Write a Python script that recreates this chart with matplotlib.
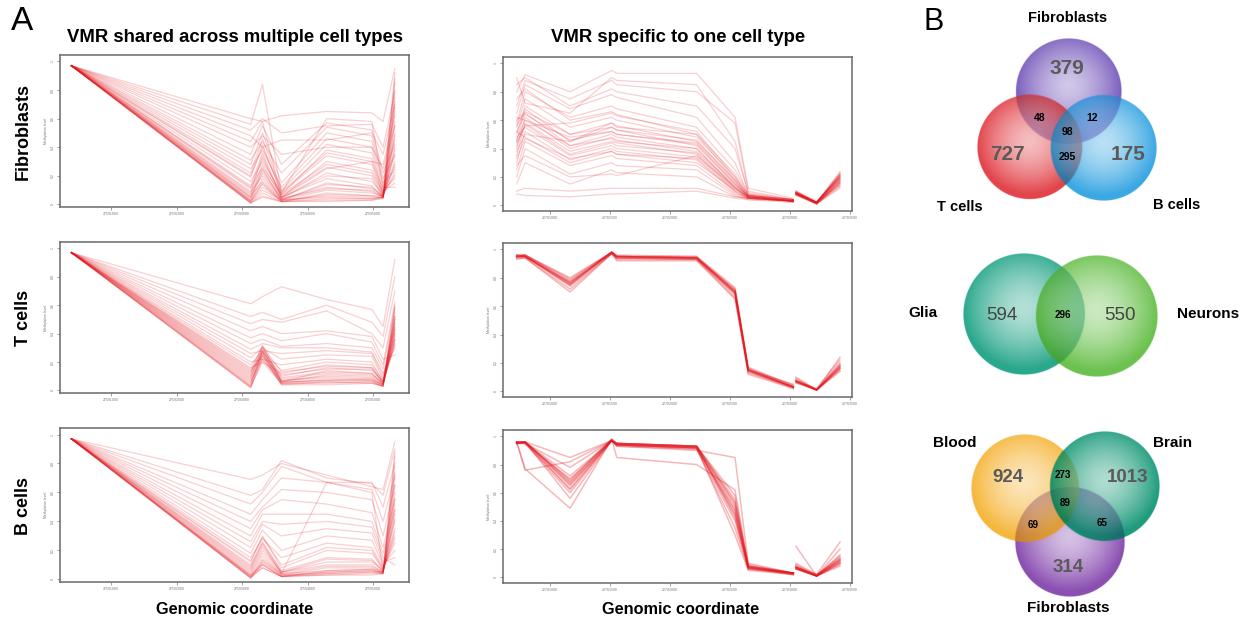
import numpy as np
import matplotlib
matplotlib.use('Agg')
import matplotlib.pyplot as plt
from matplotlib.ticker import FixedLocator

plt.rcParams['font.family'] = ['Liberation Sans', 'DejaVu Sans']

W, H = 1248, 621  # output size in pixels (dpi 100)

# Data: methylation profiles ################################################
cell_types = ['Fibroblasts', 'T cells', 'B cells']
column_titles = ['VMR shared across multiple cell types',
                 'VMR specific to one cell type']

shared_pos = [27590394, 27593130, 27593310, 27593600, 27594290,
              27594980, 27595150, 27595330]
shared_ticks = [27591000, 27592000, 27593000, 27594000, 27595000]

specific_pos = [22780722, 22780792, 22781167, 22781514, 22781556, 22782222,
                22782542, 22782652, 22783028, 22783050, 22783222, 22783417]
specific_gap = 9  # no probes between index 8 and 9
specific_ticks = [22781000, 22781500, 22782000, 22782500, 22783000, 22783500]

fib_shared = [
    [0.97, 0.01, 0.05, 0.02, 0.03, 0.03, 0.04, 0.88],
    [0.97, 0.01, 0.08, 0.02, 0.04, 0.04, 0.05, 0.80],
    [0.97, 0.02, 0.12, 0.03, 0.06, 0.05, 0.05, 0.72],
    [0.97, 0.02, 0.15, 0.02, 0.08, 0.06, 0.04, 0.65],
    [0.97, 0.03, 0.18, 0.03, 0.10, 0.08, 0.06, 0.58],
    [0.97, 0.04, 0.22, 0.04, 0.12, 0.09, 0.05, 0.50],
    [0.97, 0.05, 0.25, 0.03, 0.15, 0.11, 0.06, 0.45],
    [0.97, 0.07, 0.28, 0.05, 0.18, 0.13, 0.05, 0.40],
    [0.97, 0.09, 0.20, 0.04, 0.22, 0.16, 0.07, 0.35],
    [0.97, 0.11, 0.32, 0.06, 0.26, 0.20, 0.06, 0.30],
    [0.97, 0.13, 0.36, 0.05, 0.30, 0.24, 0.08, 0.26],
    [0.97, 0.16, 0.30, 0.08, 0.34, 0.28, 0.07, 0.22],
    [0.97, 0.19, 0.42, 0.07, 0.38, 0.32, 0.10, 0.18],
    [0.97, 0.22, 0.46, 0.10, 0.42, 0.36, 0.09, 0.15],
    [0.97, 0.25, 0.38, 0.12, 0.46, 0.40, 0.12, 0.12],
    [0.97, 0.28, 0.50, 0.15, 0.50, 0.44, 0.15, 0.24],
    [0.97, 0.31, 0.44, 0.22, 0.54, 0.48, 0.18, 0.34],
    [0.97, 0.35, 0.55, 0.28, 0.57, 0.52, 0.22, 0.42],
    [0.97, 0.40, 0.48, 0.35, 0.40, 0.40, 0.25, 0.55],
    [0.97, 0.44, 0.58, 0.05, 0.25, 0.30, 0.28, 0.62],
    [0.97, 0.48, 0.40, 0.45, 0.45, 0.50, 0.35, 0.70],
    [0.97, 0.52, 0.60, 0.50, 0.55, 0.56, 0.40, 0.78],
    [0.97, 0.56, 0.84, 0.08, 0.60, 0.58, 0.12, 0.85],
    [0.97, 0.60, 0.58, 0.62, 0.65, 0.64, 0.58, 0.95],
    [0.97, 0.01, 0.06, 0.02, 0.02, 0.03, 0.05, 0.92],
    [0.97, 0.02, 0.10, 0.03, 0.05, 0.04, 0.05, 0.75],
    [0.97, 0.03, 0.14, 0.02, 0.07, 0.06, 0.06, 0.68],
    [0.97, 0.05, 0.24, 0.04, 0.11, 0.10, 0.05, 0.55],
    [0.97, 0.06, 0.16, 0.03, 0.14, 0.12, 0.06, 0.48],
    [0.97, 0.08, 0.34, 0.05, 0.20, 0.18, 0.05, 0.38],
    [0.97, 0.12, 0.26, 0.07, 0.28, 0.22, 0.07, 0.28],
    [0.97, 0.20, 0.40, 0.09, 0.36, 0.30, 0.08, 0.20],
]
tc_shared = [
    [0.97, 0.02, 0.22, 0.05, 0.05, 0.06, 0.03, 0.55],
    [0.97, 0.03, 0.26, 0.04, 0.06, 0.05, 0.03, 0.60],
    [0.97, 0.04, 0.28, 0.06, 0.07, 0.08, 0.04, 0.50],
    [0.97, 0.06, 0.25, 0.05, 0.08, 0.07, 0.03, 0.45],
    [0.97, 0.08, 0.30, 0.07, 0.10, 0.09, 0.04, 0.42],
    [0.97, 0.10, 0.27, 0.08, 0.12, 0.11, 0.05, 0.38],
    [0.97, 0.12, 0.32, 0.06, 0.14, 0.12, 0.04, 0.35],
    [0.97, 0.14, 0.24, 0.10, 0.16, 0.14, 0.06, 0.32],
    [0.97, 0.16, 0.20, 0.12, 0.18, 0.16, 0.05, 0.48],
    [0.97, 0.18, 0.28, 0.14, 0.20, 0.18, 0.07, 0.40],
    [0.97, 0.20, 0.22, 0.18, 0.22, 0.20, 0.06, 0.36],
    [0.97, 0.23, 0.30, 0.22, 0.25, 0.24, 0.08, 0.52],
    [0.97, 0.26, 0.28, 0.26, 0.28, 0.26, 0.10, 0.44],
    [0.97, 0.29, 0.33, 0.30, 0.30, 0.27, 0.12, 0.30],
    [0.97, 0.33, 0.36, 0.31, 0.33, 0.30, 0.15, 0.58],
    [0.97, 0.37, 0.40, 0.35, 0.40, 0.34, 0.18, 0.62],
    [0.97, 0.42, 0.45, 0.40, 0.42, 0.38, 0.22, 0.25],
    [0.97, 0.47, 0.50, 0.48, 0.56, 0.40, 0.30, 0.70],
    [0.97, 0.52, 0.55, 0.50, 0.60, 0.48, 0.38, 0.80],
    [0.97, 0.61, 0.66, 0.73, 0.64, 0.57, 0.45, 0.92],
    [0.97, 0.02, 0.24, 0.04, 0.04, 0.05, 0.03, 0.58],
    [0.97, 0.03, 0.20, 0.05, 0.06, 0.06, 0.03, 0.52],
    [0.97, 0.05, 0.28, 0.06, 0.07, 0.07, 0.04, 0.47],
    [0.97, 0.07, 0.22, 0.07, 0.09, 0.08, 0.04, 0.43],
    [0.97, 0.09, 0.26, 0.06, 0.11, 0.10, 0.05, 0.40],
    [0.97, 0.11, 0.30, 0.09, 0.13, 0.12, 0.05, 0.36],
    [0.97, 0.13, 0.27, 0.11, 0.15, 0.15, 0.06, 0.33],
    [0.97, 0.15, 0.31, 0.13, 0.17, 0.16, 0.06, 0.50],
]
bc_shared = [
    [0.97, 0.01, 0.10, 0.02, 0.03, 0.04, 0.04, 0.85],
    [0.97, 0.01, 0.12, 0.03, 0.04, 0.05, 0.04, 0.78],
    [0.97, 0.02, 0.08, 0.02, 0.05, 0.06, 0.05, 0.70],
    [0.97, 0.03, 0.14, 0.04, 0.06, 0.07, 0.04, 0.60],
    [0.97, 0.04, 0.16, 0.03, 0.08, 0.08, 0.05, 0.52],
    [0.97, 0.06, 0.20, 0.05, 0.10, 0.10, 0.05, 0.45],
    [0.97, 0.08, 0.24, 0.04, 0.67, 0.60, 0.06, 0.40],
    [0.97, 0.10, 0.26, 0.06, 0.15, 0.14, 0.06, 0.35],
    [0.97, 0.12, 0.30, 0.08, 0.20, 0.18, 0.07, 0.30],
    [0.97, 0.15, 0.28, 0.15, 0.25, 0.22, 0.08, 0.25],
    [0.97, 0.18, 0.34, 0.20, 0.30, 0.27, 0.10, 0.20],
    [0.97, 0.22, 0.38, 0.30, 0.35, 0.32, 0.12, 0.15],
    [0.97, 0.26, 0.40, 0.38, 0.40, 0.36, 0.15, 0.10],
    [0.97, 0.30, 0.45, 0.45, 0.45, 0.40, 0.18, 0.48],
    [0.97, 0.35, 0.48, 0.55, 0.52, 0.46, 0.22, 0.55],
    [0.97, 0.40, 0.50, 0.62, 0.60, 0.55, 0.30, 0.65],
    [0.97, 0.45, 0.55, 0.70, 0.67, 0.62, 0.40, 0.72],
    [0.97, 0.52, 0.60, 0.78, 0.67, 0.67, 0.50, 0.80],
    [0.97, 0.58, 0.62, 0.82, 0.70, 0.66, 0.58, 0.90],
    [0.97, 0.69, 0.72, 0.80, 0.72, 0.64, 0.62, 0.95],
    [0.97, 0.01, 0.08, 0.02, 0.03, 0.03, 0.04, 0.88],
    [0.97, 0.02, 0.11, 0.02, 0.04, 0.05, 0.05, 0.74],
    [0.97, 0.02, 0.13, 0.03, 0.05, 0.06, 0.04, 0.65],
    [0.97, 0.03, 0.10, 0.02, 0.06, 0.07, 0.05, 0.56],
    [0.97, 0.05, 0.18, 0.04, 0.09, 0.09, 0.05, 0.48],
    [0.97, 0.07, 0.22, 0.05, 0.12, 0.12, 0.06, 0.42],
    [0.97, 0.09, 0.25, 0.05, 0.14, 0.13, 0.06, 0.33],
    [0.97, 0.13, 0.29, 0.10, 0.22, 0.20, 0.07, 0.28],
]
fib_specific = [
    [0.55, 0.75, 0.55, 0.62, 0.60, 0.48, 0.20, 0.07, 0.04, 0.09, 0.02, 0.18],
    [0.50, 0.70, 0.50, 0.58, 0.56, 0.45, 0.18, 0.06, 0.03, 0.08, 0.02, 0.20],
    [0.45, 0.68, 0.45, 0.55, 0.53, 0.42, 0.15, 0.06, 0.03, 0.09, 0.01, 0.16],
    [0.60, 0.65, 0.42, 0.50, 0.48, 0.40, 0.12, 0.05, 0.03, 0.08, 0.02, 0.22],
    [0.40, 0.62, 0.40, 0.48, 0.46, 0.38, 0.14, 0.07, 0.02, 0.07, 0.01, 0.14],
    [0.35, 0.58, 0.38, 0.45, 0.44, 0.36, 0.10, 0.05, 0.03, 0.08, 0.02, 0.19],
    [0.48, 0.55, 0.35, 0.42, 0.40, 0.34, 0.12, 0.06, 0.04, 0.09, 0.02, 0.24],
    [0.30, 0.52, 0.32, 0.40, 0.38, 0.32, 0.09, 0.05, 0.03, 0.08, 0.01, 0.15],
    [0.58, 0.80, 0.62, 0.70, 0.68, 0.55, 0.25, 0.08, 0.04, 0.10, 0.02, 0.21],
    [0.65, 0.85, 0.68, 0.78, 0.76, 0.62, 0.30, 0.07, 0.03, 0.09, 0.02, 0.17],
    [0.70, 0.88, 0.75, 0.88, 0.85, 0.80, 0.58, 0.10, 0.04, 0.10, 0.03, 0.20],
    [0.80, 0.92, 0.80, 0.95, 0.93, 0.93, 0.62, 0.12, 0.05, 0.09, 0.02, 0.23],
    [0.25, 0.45, 0.28, 0.35, 0.33, 0.28, 0.08, 0.05, 0.03, 0.08, 0.01, 0.13],
    [0.20, 0.40, 0.22, 0.30, 0.28, 0.25, 0.07, 0.04, 0.02, 0.07, 0.01, 0.12],
    [0.15, 0.30, 0.15, 0.25, 0.23, 0.20, 0.06, 0.05, 0.03, 0.08, 0.02, 0.16],
    [0.62, 0.60, 0.48, 0.52, 0.50, 0.44, 0.16, 0.06, 0.03, 0.09, 0.02, 0.19],
    [0.38, 0.50, 0.45, 0.58, 0.55, 0.50, 0.22, 0.07, 0.04, 0.10, 0.02, 0.22],
    [0.85, 0.90, 0.70, 0.82, 0.80, 0.70, 0.40, 0.09, 0.04, 0.08, 0.02, 0.18],
    [0.90, 0.72, 0.65, 0.90, 0.88, 0.85, 0.45, 0.08, 0.03, 0.09, 0.02, 0.15],
    [0.08, 0.07, 0.06, 0.08, 0.08, 0.10, 0.05, 0.04, 0.03, 0.07, 0.02, 0.14],
    [0.10, 0.12, 0.10, 0.12, 0.12, 0.12, 0.06, 0.05, 0.03, 0.08, 0.01, 0.17],
    [0.52, 0.48, 0.30, 0.38, 0.36, 0.30, 0.11, 0.06, 0.03, 0.09, 0.02, 0.20],
    [0.44, 0.56, 0.58, 0.65, 0.63, 0.52, 0.20, 0.07, 0.04, 0.08, 0.02, 0.21],
    [0.28, 0.35, 0.20, 0.22, 0.21, 0.35, 0.13, 0.06, 0.03, 0.09, 0.02, 0.18],
    [0.56, 0.66, 0.50, 0.55, 0.53, 0.46, 0.17, 0.06, 0.03, 0.08, 0.02, 0.19],
    [0.52, 0.64, 0.46, 0.52, 0.50, 0.43, 0.15, 0.06, 0.03, 0.09, 0.02, 0.21],
    [0.46, 0.60, 0.42, 0.47, 0.45, 0.40, 0.13, 0.05, 0.03, 0.08, 0.01, 0.17],
    [0.42, 0.57, 0.36, 0.44, 0.42, 0.37, 0.12, 0.06, 0.03, 0.08, 0.02, 0.20],
    [0.75, 0.82, 0.60, 0.66, 0.64, 0.50, 0.18, 0.07, 0.04, 0.09, 0.02, 0.22],
    [0.33, 0.47, 0.33, 0.38, 0.36, 0.33, 0.10, 0.05, 0.03, 0.08, 0.01, 0.16],
]
tc_specific = [
    [0.95, 0.95, 0.76, 0.98, 0.95, 0.94, 0.70, 0.15, 0.03, 0.07, 0.01, 0.18],
    [0.96, 0.96, 0.78, 0.98, 0.95, 0.94, 0.72, 0.16, 0.03, 0.08, 0.01, 0.16],
    [0.94, 0.95, 0.74, 0.97, 0.94, 0.93, 0.68, 0.14, 0.02, 0.07, 0.01, 0.20],
    [0.95, 0.96, 0.80, 0.98, 0.96, 0.95, 0.73, 0.16, 0.04, 0.08, 0.01, 0.15],
    [0.93, 0.94, 0.72, 0.97, 0.93, 0.93, 0.66, 0.13, 0.03, 0.07, 0.02, 0.22],
    [0.95, 0.95, 0.77, 0.98, 0.95, 0.94, 0.70, 0.15, 0.03, 0.06, 0.01, 0.17],
    [0.96, 0.95, 0.75, 0.98, 0.94, 0.93, 0.69, 0.14, 0.03, 0.07, 0.01, 0.19],
    [0.94, 0.94, 0.70, 0.97, 0.92, 0.92, 0.65, 0.12, 0.02, 0.06, 0.01, 0.24],
    [0.95, 0.96, 0.79, 0.98, 0.95, 0.95, 0.71, 0.17, 0.04, 0.09, 0.01, 0.14],
    [0.96, 0.96, 0.76, 0.98, 0.95, 0.94, 0.70, 0.15, 0.03, 0.07, 0.01, 0.17],
    [0.95, 0.95, 0.77, 0.97, 0.95, 0.94, 0.71, 0.15, 0.05, 0.10, 0.01, 0.16],
    [0.95, 0.95, 0.75, 0.98, 0.94, 0.94, 0.69, 0.15, 0.03, 0.07, 0.01, 0.18],
]
bc_specific = [
    [0.96, 0.96, 0.67, 0.97, 0.95, 0.93, 0.50, 0.07, 0.03, 0.07, 0.01, 0.12],
    [0.95, 0.96, 0.62, 0.97, 0.94, 0.92, 0.45, 0.08, 0.03, 0.06, 0.01, 0.10],
    [0.96, 0.95, 0.70, 0.97, 0.95, 0.93, 0.55, 0.07, 0.02, 0.08, 0.02, 0.14],
    [0.95, 0.96, 0.65, 0.97, 0.94, 0.92, 0.48, 0.06, 0.03, 0.07, 0.01, 0.11],
    [0.96, 0.96, 0.68, 0.98, 0.95, 0.93, 0.52, 0.08, 0.03, 0.07, 0.01, 0.13],
    [0.95, 0.95, 0.60, 0.97, 0.94, 0.91, 0.40, 0.06, 0.02, 0.06, 0.01, 0.09],
    [0.96, 0.96, 0.72, 0.97, 0.95, 0.93, 0.58, 0.08, 0.03, 0.09, 0.01, 0.15],
    [0.95, 0.96, 0.66, 0.97, 0.94, 0.92, 0.47, 0.07, 0.03, 0.07, 0.02, 0.12],
    [0.96, 0.95, 0.63, 0.97, 0.95, 0.93, 0.53, 0.09, 0.03, 0.08, 0.01, 0.16],
    [0.95, 0.96, 0.69, 0.98, 0.94, 0.92, 0.44, 0.07, 0.02, 0.06, 0.01, 0.10],
    [0.95, 0.95, 0.78, 0.97, 0.93, 0.91, 0.35, 0.06, 0.03, 0.22, 0.01, 0.08],
    [0.96, 0.76, 0.82, 0.97, 0.93, 0.90, 0.85, 0.10, 0.03, 0.10, 0.02, 0.25],
    [0.96, 0.77, 0.49, 0.98, 0.85, 0.80, 0.62, 0.08, 0.03, 0.07, 0.01, 0.20],
    [0.95, 0.96, 0.85, 0.97, 0.94, 0.92, 0.30, 0.05, 0.02, 0.06, 0.01, 0.11],
    [0.96, 0.96, 0.56, 0.97, 0.95, 0.93, 0.42, 0.07, 0.03, 0.07, 0.01, 0.13],
]

# Venn counts
venn1_sets = ['Fibroblasts', 'T cells', 'B cells']
venn1_counts = {'F': 379, 'T': 727, 'B': 175, 'FT': 48, 'FB': 12,
                'FTB': 98, 'TB': 295}
venn2_sets = ['Glia', 'Neurons']
venn2_counts = {'G': 594, 'N': 550, 'GN': 296}
venn3_sets = ['Blood', 'Brain', 'Fibroblasts']
venn3_counts = {'Bl': 924, 'Br': 1013, 'F': 314, 'BlBr': 273,
                'BlBrF': 89, 'BlF': 69, 'BrF': 65}

# Layout (pixels) ##########################################################
left_boxes = [(60, 55, 409, 207), (60, 242, 409, 393), (60, 428, 409, 582)]
right_boxes = [(503, 57, 852, 211), (503, 243, 852, 397),
               (503, 430, 852, 583)]
RED = '#e3161d'


def px_rect(box):
    x0, y0, x1, y1 = box
    return [x0 / W, 1 - y1 / H, (x1 - x0) / W, (y1 - y0) / H]


def style_axes(ax, ticks, xlim, ylim):
    ax.set_xlim(*xlim)
    ax.set_ylim(*ylim)
    ax.xaxis.set_major_locator(FixedLocator(ticks))
    ax.set_xticklabels([str(t) for t in ticks])
    ax.set_yticks([0, 0.2, 0.4, 0.6, 0.8, 1.0])
    ax.set_yticklabels(['0', '0.2', '0.4', '0.6', '0.8', '1'],
                       rotation=90, va='center')
    ax.tick_params(length=2, width=0.5, color='#777777', labelsize=2.5,
                   labelcolor='#777777', pad=1.5)
    ax.set_ylabel('Methylation level', fontsize=2.5, color='#777777',
                  labelpad=2)
    for s in ax.spines.values():
        s.set_color('#6a6a6a')
        s.set_linewidth(1.1)


fig = plt.figure(figsize=(W / 100, H / 100), dpi=100)

shared_sets = [fib_shared, tc_shared, bc_shared]
specific_sets = [fib_specific, tc_specific, bc_specific]

for i in range(3):
    ax = fig.add_axes(px_rect(left_boxes[i]))
    for prof in shared_sets[i]:
        ax.plot(shared_pos, prof, color=RED, alpha=0.2, lw=0.9,
                solid_joinstyle='round')
    style_axes(ax, shared_ticks, (27590220, 27595546), (-0.018, 1.045))

    ax = fig.add_axes(px_rect(right_boxes[i]))
    g = specific_gap
    xs = np.r_[specific_pos[:g], np.nan, specific_pos[g:]]
    alpha = 0.2 if i == 0 else 0.3
    lw = 0.9 if i == 0 else 1.1
    for prof in specific_sets[i]:
        ys = np.r_[prof[:g], np.nan, prof[g:]]
        ax.plot(xs, ys, color=RED, alpha=alpha, lw=lw,
                solid_joinstyle='round')
    style_axes(ax, specific_ticks, (22780608, 22783517), (-0.04, 1.045))

# Overlay in pixel coordinates for texts and Venn diagrams #################
ov = fig.add_axes([0, 0, 1, 1], facecolor='none')
ov.set_xlim(0, W)
ov.set_ylim(H, 0)
ov.axis('off')

ov.text(11, 22, 'A', fontsize=24, ha='left', va='center')
ov.text(923, 22, 'B', fontsize=22, ha='left', va='center')
for cx, t in zip([235, 678], column_titles):
    ov.text(cx, 38, t, fontsize=13.3, fontweight='bold', ha='center',
            va='center')
for cx in [235, 681]:
    ov.text(cx, 609, 'Genomic coordinate', fontsize=11.7, fontweight='bold',
            ha='center', va='center')
for cy, t in zip([132, 318, 506], cell_types):
    ov.text(23, cy, t, fontsize=13, fontweight='bold', rotation=90,
            ha='center', va='center')


def hex_rgb(h):
    h = h.lstrip('#')
    return np.array([int(h[k:k + 2], 16) / 255 for k in (0, 2, 4)])


def draw_venn(circles):
    # circles: list of (cx, cy, r, colour); soft radial gradient, blended
    x0 = min(c[0] - c[2] for c in circles) - 3
    x1 = max(c[0] + c[2] for c in circles) + 3
    y0 = min(c[1] - c[2] for c in circles) - 3
    y1 = max(c[1] + c[2] for c in circles) + 3
    s = 3
    xx = np.linspace(x0, x1, int((x1 - x0) * s))
    yy = np.linspace(y0, y1, int((y1 - y0) * s))
    X, Y = np.meshgrid(xx, yy)
    rgb = np.ones(X.shape + (3,))
    alpha = np.zeros(X.shape)
    for cx, cy, r, col in circles:
        c = hex_rgb(col)
        d = np.hypot(X - cx, Y - (cy - 0.1 * r)) / r
        t = np.clip(0.35 + 0.65 * d ** 1.5, 0, 1)[..., None]
        layer = 1 - t * (1 - c)
        m = np.clip(r - np.hypot(X - cx, Y - cy) + 0.5, 0, 1)[..., None]
        new = layer * (0.45 * rgb + 0.55)
        rgb = rgb * (1 - m) + new * m
        alpha = np.maximum(alpha, m[..., 0])
    img = np.dstack([rgb, alpha])
    ov.imshow(img, extent=(x0, x1, y1, y0), origin='upper', aspect='auto',
              interpolation='bilinear', zorder=1)


def label(x, y, s, size, bold=True, color='black'):
    ov.text(x, y, s, fontsize=size, fontweight='bold' if bold else 'normal',
            color=color, ha='center', va='center', zorder=3)


GREY = '#5a5a5a'

# Venn 1: fibroblasts / T cells / B cells
draw_venn([(1068, 91, 53, '#7b5fbe'), (1029, 147, 52.5, '#e2454b'),
           (1103, 148, 53, '#3ba8e3')])
label(1068, 18, venn1_sets[0], 10.5)
label(960, 207, venn1_sets[1], 10.5)
label(1177, 205, venn1_sets[2], 10.5)
label(1067, 68, str(venn1_counts['F']), 15, color=GREY)
label(1007, 155, str(venn1_counts['T']), 15, color=GREY)
label(1128, 155, str(venn1_counts['B']), 15, color=GREY)
label(1040, 118, str(venn1_counts['FT']), 7.5)
label(1092, 118, str(venn1_counts['FB']), 7.5)
label(1067, 132, str(venn1_counts['FTB']), 7.5)
label(1067, 157, str(venn1_counts['TB']), 7.5)

# Venn 2: glia / neurons
draw_venn([(1024, 314, 61, '#2aa88c'), (1097, 316, 61, '#6cc24f')])
label(923, 313, venn2_sets[0], 11)
label(1208, 314, venn2_sets[1], 11)
label(1002, 315, str(venn2_counts['G']), 13.5, bold=False, color='#444444')
label(1120, 315, str(venn2_counts['N']), 13.5, bold=False, color='#444444')
label(1063, 315, str(venn2_counts['GN']), 7)

# Venn 3: blood / brain / fibroblasts
draw_venn([(1070, 542, 55, '#8b4fb2'), (1025, 488, 54, '#f6b73c'),
           (1105, 486, 55, '#1e9c7c')])
label(955, 443, venn3_sets[0], 11)
label(1173, 443, venn3_sets[1], 11)
label(1068, 608, venn3_sets[2], 11)
label(1008, 477, str(venn3_counts['Bl']), 13.5, color=GREY)
label(1128, 477, str(venn3_counts['Br']), 13.5, color=GREY)
label(1068, 567, str(venn3_counts['F']), 13.5, color=GREY)
label(1063, 475, str(venn3_counts['BlBr']), 7)
label(1065, 503, str(venn3_counts['BlBrF']), 7)
label(1033, 525, str(venn3_counts['BlF']), 7)
label(1102, 523, str(venn3_counts['BrF']), 7)

fig.savefig('out.png', dpi=100)
